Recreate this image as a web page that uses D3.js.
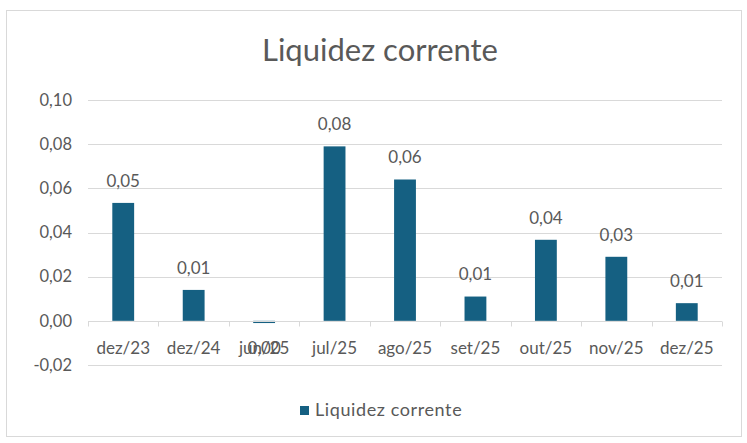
<!DOCTYPE html>
<html>
<head>
<meta charset="utf-8">
<script src="https://cdn.jsdelivr.net/npm/d3@7"></script>
<style>
  body { margin: 0; background: #fff; }
  svg text { font-family: Lato, "Open Sans", sans-serif; fill: #595959; }
</style>
</head>
<body>
<svg id="chart" width="747" height="443"></svg>
<script>
// ---- Data ----
const categories = ["dez/23", "dez/24", "jun/25", "jul/25", "ago/25", "set/25", "out/25", "nov/25", "dez/25"];
const values = [0.0534, 0.014, -0.001, 0.079, 0.064, 0.011, 0.0367, 0.029, 0.008];
const yTicks = [-0.02, 0, 0.02, 0.04, 0.06, 0.08, 0.10];
const seriesName = "Liquidez corrente";

const svg = d3.select("#chart");
const fmt = v => d3.format(".2f")(Math.abs(v) < 0.005 ? 0 : v).replace(".", ",");
const color = "#156082";

// chart border
svg.append("rect")
  .attr("x", 6.5).attr("y", 10.5).attr("width", 735).attr("height", 426)
  .attr("fill", "#fff").attr("stroke", "#d9d9d9");

// title
svg.append("text")
  .attr("x", 380).attr("y", 50)
  .attr("dy", "0.35em")
  .attr("text-anchor", "middle")
  .style("font-size", "31px")
  .text("Liquidez corrente");

const margin = { left: 88, right: 722, top: 100, bottom: 365 };

const x = d3.scaleBand().domain(categories).range([margin.left, margin.right]).paddingInner(0.69).paddingOuter(0.345);
const xGroup = d3.scaleBand().domain(categories).range([margin.left, margin.right]);
const y = d3.scaleLinear().domain([-0.02, 0.10]).range([margin.bottom, margin.top]);

// gridlines
svg.append("g").selectAll("line")
  .data(yTicks.filter(t => t !== 0))
  .join("line")
  .attr("x1", margin.left).attr("x2", margin.right)
  .attr("y1", d => Math.round(y(d)) + 0.5).attr("y2", d => Math.round(y(d)) + 0.5)
  .attr("stroke", "#d9d9d9");

// y tick labels
svg.append("g").selectAll("text")
  .data(yTicks)
  .join("text")
  .attr("x", 72).attr("y", d => y(d))
  .attr("dy", "0.35em")
  .attr("text-anchor", "end")
  .style("font-size", "16.5px")
  .text(d => d3.format(".2f")(d).replace(".", ",").replace("−", "-"));

// bars
svg.append("g").selectAll("rect")
  .data(values)
  .join("rect")
  .attr("x", (d, i) => x(categories[i]))
  .attr("width", x.bandwidth())
  .attr("y", d => y(Math.max(0, d)))
  .attr("height", d => Math.max(1.5, Math.abs(y(d) - y(0))))
  .attr("fill", color);

// zero axis with tick marks
const y0 = Math.round(y(0)) + 0.5;
svg.append("line")
  .attr("x1", margin.left).attr("x2", margin.right)
  .attr("y1", y0).attr("y2", y0)
  .attr("stroke", "#d9d9d9");
svg.append("g").selectAll("line")
  .data(categories.map(c => xGroup(c)).concat([margin.right]))
  .join("line")
  .attr("x1", d => Math.round(d) + 0.5).attr("x2", d => Math.round(d) + 0.5)
  .attr("y1", y0).attr("y2", y0 + 5)
  .attr("stroke", "#d9d9d9");

// category labels
svg.append("g").selectAll("text")
  .data(categories)
  .join("text")
  .attr("x", d => xGroup(d) + xGroup.bandwidth() / 2)
  .attr("y", 348)
  .attr("dy", "0.35em")
  .attr("text-anchor", "middle")
  .style("font-size", "17px")
  .text(d => d);

// data labels
svg.append("g").selectAll("text")
  .data(values)
  .join("text")
  .attr("x", (d, i) => xGroup(categories[i]) + xGroup.bandwidth() / 2)
  .attr("y", d => d >= 0 ? y(d) - 22 : 348)
  .attr("dy", "0.35em")
  .attr("text-anchor", "middle")
  .style("font-size", "17px")
  .text(d => fmt(d));

// legend
svg.append("rect")
  .attr("x", 300).attr("y", 406).attr("width", 9).attr("height", 9)
  .attr("fill", color);
svg.append("text")
  .attr("x", 315).attr("y", 410)
  .attr("dy", "0.35em")
  .style("font-size", "18px")
  .style("letter-spacing", "0.6px")
  .text(seriesName);
</script>
</body>
</html>
